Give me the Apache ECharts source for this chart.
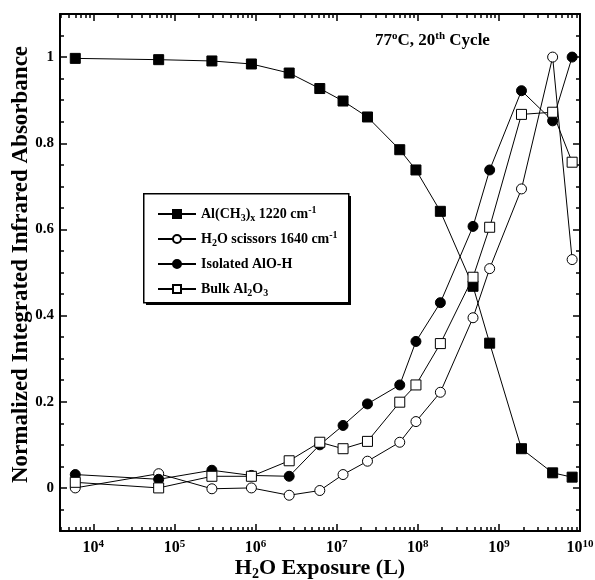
<!DOCTYPE html>
<html>
<head>
<meta charset="utf-8">
<script src="https://cdn.jsdelivr.net/npm/echarts@6/dist/echarts.min.js"></script>
<style>
  html, body { margin: 0; padding: 0; background: #fff; }
  #chart { width: 595px; height: 580px; }
</style>
</head>
<body>
<div id="chart"></div>
<script>
// H2O exposure (L), shared by all four series
var exposure = [6.0e3, 6.4e4, 2.9e5, 8.9e5, 2.6e6, 6.2e6, 1.2e7, 2.4e7, 6.0e7, 9.5e7, 1.9e8, 4.8e8, 7.7e8, 1.9e9, 4.6e9, 8.0e9];
// normalized integrated absorbance
var alch3x = [0.997, 0.994, 0.991, 0.984, 0.963, 0.927, 0.898, 0.861, 0.785, 0.738, 0.642, 0.468, 0.336, 0.091, 0.035, 0.025];
var h2oScissors = [0.000, 0.033, -0.002, 0.000, -0.017, -0.006, 0.031, 0.062, 0.106, 0.154, 0.222, 0.395, 0.509, 0.694, 1.000, 0.530];
var isolatedAlOH = [0.031, 0.020, 0.041, 0.029, 0.027, 0.100, 0.145, 0.195, 0.239, 0.340, 0.430, 0.607, 0.738, 0.922, 0.852, 1.000];
var bulkAl2O3 = [0.013, 0.000, 0.027, 0.027, 0.063, 0.106, 0.091, 0.108, 0.199, 0.239, 0.335, 0.489, 0.605, 0.867, 0.872, 0.756];

var seriesNames = ['Al(CH3)x 1220 cm-1', 'H2O scissors 1640 cm-1', 'Isolated AlO-H', 'Bulk Al2O3'];
// legend labels in rich text
var legendLabels = {
  'Al(CH3)x 1220 cm-1': 'Al(CH{sub|3}){sub|x} 1220 cm{sup|-1}',
  'H2O scissors 1640 cm-1': 'H{sub|2}O scissors 1640 cm{sup|-1}',
  'Isolated AlO-H': 'Isolated AlO-H',
  'Bulk Al2O3': 'Bulk Al{sub|2}O{sub|3}'
};

var xMajorTicks = [1e4, 1e5, 1e6, 1e7, 1e8, 1e9, 1e10];
var yMajorTicks = [0, 0.2, 0.4, 0.6, 0.8, 1];
var xMin = 3890, xMax = 1e10;
var yMin = -0.1, yMax = 1.1;

// minor log ticks 2..9 in every decade
var xMinorTicks = [];
for (var d = 3; d < 10; d++) {
  for (var m = 2; m <= 9; m++) {
    var v = m * Math.pow(10, d);
    if (v >= xMin && v <= xMax) xMinorTicks.push(v);
  }
}

function zip(xs, ys) {
  return xs.map(function (x, i) { return [x, ys[i]]; });
}

var FONT = 'Liberation Serif';
var richText = {
  sub: { fontSize: 10, lineHeight: 10, verticalAlign: 'bottom' },
  sup: { fontSize: 10, lineHeight: 10, verticalAlign: 'top' }
};

function xAxisCfg(pos, major) {
  return {
    type: 'log',
    logBase: 10,
    min: xMin,
    max: xMax,
    position: pos,
    axisLine: { show: major, onZero: false, lineStyle: { color: '#000', width: 2 } },
    axisTick: { show: true, inside: true, length: major ? 7 : 4, customValues: major ? xMajorTicks : xMinorTicks, lineStyle: { color: '#000', width: 1.5 } },
    axisLabel: { show: false },
    splitLine: { show: false }
  };
}

function yAxisCfg(pos, major) {
  var cfg = {
    type: 'value',
    min: yMin,
    max: yMax,
    position: pos,
    axisLine: { show: major, onZero: false, lineStyle: { color: '#000', width: 2 } },
    axisTick: { show: true, inside: true, length: major ? 7 : 4, lineStyle: { color: '#000', width: 1.5 } },
    axisLabel: { show: false },
    splitLine: { show: false }
  };
  if (major) cfg.axisTick.customValues = yMajorTicks;
  else cfg.interval = 0.05;
  return cfg;
}

var xAxes = [xAxisCfg('bottom', true), xAxisCfg('bottom', false), xAxisCfg('top', true), xAxisCfg('top', false)];
xAxes[0].axisLabel = {
  show: true,
  customValues: xMajorTicks,
  margin: 8,
  color: '#000',
  fontFamily: FONT,
  fontWeight: 'bold',
  fontSize: 16,
  formatter: function (v) {
    return '{n|10}{sup|' + Math.round(Math.log10(v)) + '}';
  },
  rich: {
    n: { fontSize: 16, lineHeight: 18 },
    sup: { fontSize: 11, lineHeight: 10, verticalAlign: 'top' }
  }
};
xAxes[0].name = 'H{sub|2}O Exposure (L)';
xAxes[0].nameLocation = 'middle';
xAxes[0].nameGap = 24;
xAxes[0].nameMoveOverlap = false;
xAxes[0].nameTextStyle = {
  color: '#000', fontFamily: FONT, fontWeight: 'bold', fontSize: 22,
  rich: { sub: { fontSize: 14, lineHeight: 12, verticalAlign: 'bottom' } },
  lineHeight: 26
};

var yAxes = [yAxisCfg('left', true), yAxisCfg('left', false), yAxisCfg('right', true), yAxisCfg('right', false)];
yAxes[0].axisLabel = {
  show: true,
  customValues: yMajorTicks,
  margin: 6,
  color: '#000',
  fontFamily: FONT,
  fontWeight: 'bold',
  fontSize: 15,
  formatter: function (v) { return String(v); }
};
yAxes[0].name = 'Normalized Integrated Infrared Absorbance';
yAxes[0].nameLocation = 'middle';
yAxes[0].nameGap = 27;
yAxes[0].nameMoveOverlap = false;
yAxes[0].nameTextStyle = { color: '#000', fontFamily: FONT, fontWeight: 'bold', fontSize: 23, padding: [0, 0, 0, 16] };

var markers = [
  { symbol: 'rect', fill: '#000', size: 10 },
  { symbol: 'circle', fill: '#fff', size: 10 },
  { symbol: 'circle', fill: '#000', size: 10 },
  { symbol: 'rect', fill: '#fff', size: 10 }
];
var values = [alch3x, h2oScissors, isolatedAlOH, bulkAl2O3];

var series = seriesNames.map(function (name, i) {
  return {
    name: name,
    type: 'line',
    xAxisIndex: 0,
    yAxisIndex: 0,
    data: zip(exposure, values[i]),
    symbol: markers[i].symbol,
    symbolSize: markers[i].size,
    showAllSymbol: true,
    lineStyle: { color: '#000', width: 1 },
    itemStyle: { color: markers[i].fill, borderColor: '#000', borderWidth: 1 },
    emphasis: { disabled: true },
    animation: false,
    z: 3 + i
  };
});

var chart = echarts.init(document.getElementById('chart'), null, { renderer: 'canvas' });
chart.setOption({
  backgroundColor: '#fff',
  animation: false,
  grid: { left: 60, right: 15, top: 14, bottom: 49, outerBoundsMode: 'none', containLabel: false },
  title: {
    text: '77{sup|o}C, 20{sup|th} Cycle',
    left: 370,
    top: 26,
    textStyle: {
      color: '#000', fontFamily: FONT, fontWeight: 'bold', fontSize: 17, lineHeight: 20,
      rich: { sup: { fontSize: 11, lineHeight: 10, verticalAlign: 'top' } }
    }
  },
  graphic: [{
    // legend box shadow
    type: 'rect',
    left: 146,
    top: 196,
    shape: { width: 205, height: 109 },
    style: { fill: '#000' },
    z: 1
  }, {
    type: 'rect',
    left: 143,
    top: 193,
    shape: { width: 205, height: 109 },
    style: { fill: '#fff', stroke: '#000', lineWidth: 1.5 },
    z: 2
  }],
  legend: {
    orient: 'vertical',
    left: 152,
    top: 200,
    itemWidth: 38,
    itemHeight: 10,
    itemGap: 7,
    data: seriesNames,
    selectedMode: false,
    formatter: function (name) { return legendLabels[name]; },
    textStyle: {
      color: '#000', fontFamily: FONT, fontWeight: 'bold', fontSize: 14, lineHeight: 18,
      rich: richText
    },
    z: 5
  },
  xAxis: xAxes,
  yAxis: yAxes,
  series: series
});
</script>
</body>
</html>
